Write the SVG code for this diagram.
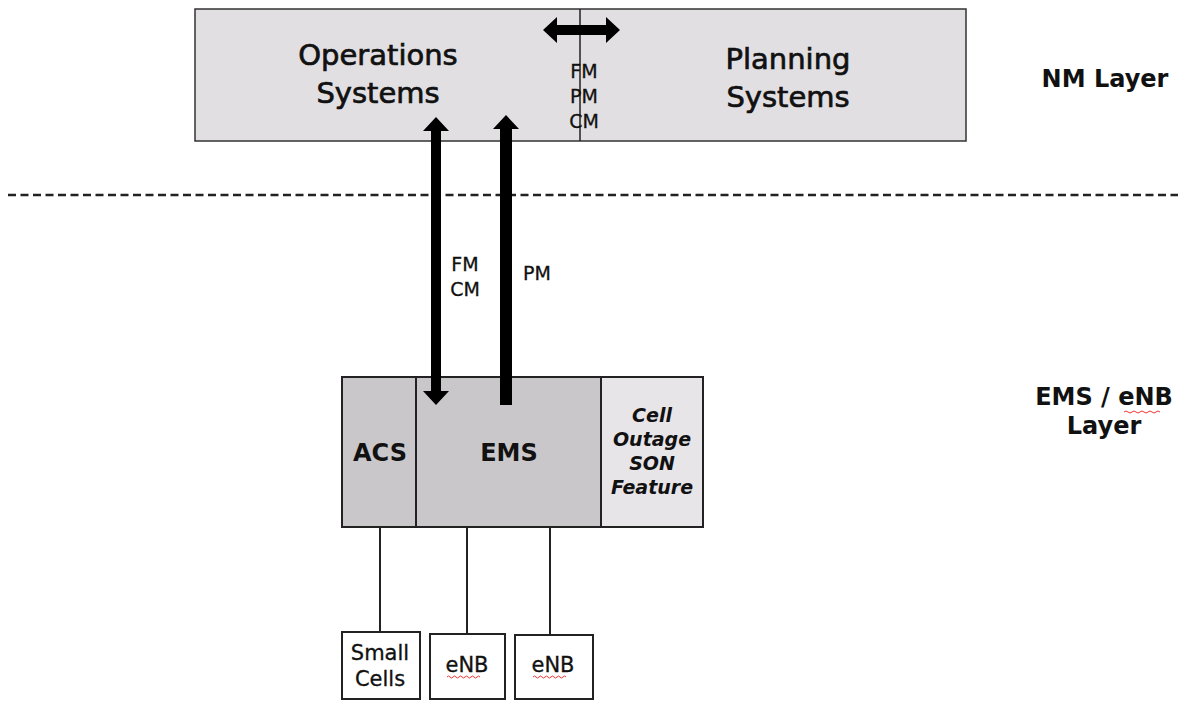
<svg xmlns="http://www.w3.org/2000/svg" width="1182" height="702" viewBox="0 0 1182 702">
<style>
.t{font-family:"DejaVu Sans","Liberation Sans",sans-serif;fill:#111;text-anchor:middle}
.big{font-size:29px;stroke:#111;stroke-width:0.7}
.b{font-weight:bold}
.sm{font-size:19px;stroke:#111;stroke-width:0.3}
.nb{font-size:21px;stroke:#111;stroke-width:0.3}
.box{stroke:#222;stroke-width:2}
.ln{stroke:#222;stroke-width:2;fill:none}
.arr{fill:#000}
.sq{fill:none;stroke:#e33;stroke-width:1}
</style>
<rect width="1182" height="702" fill="#fff"/>
<g id="nm-box">
<rect x="195" y="9" width="771" height="132" fill="#e1dfe2" stroke="#333" stroke-width="1.5"/>
<line x1="580" y1="9" x2="580" y2="141" stroke="#222" stroke-width="1.5"/>
</g>
<g id="operations-systems">
<text class="t big" x="378" y="65">Operations</text>
<text class="t big" x="378" y="103">Systems</text>
</g>
<g id="planning-systems">
<text class="t big" x="788" y="69">Planning</text>
<text class="t big" x="788" y="107">Systems</text>
</g>
<g id="nm-layer"><text class="t b" font-size="24" x="1105" y="87">NM Layer</text></g>
<g id="ems-layer">
<text class="t b" font-size="24" x="1104" y="405">EMS / eNB</text>
<text class="t b" font-size="24" x="1104" y="434">Layer</text>
<path class="sq" d="M1124 412 q2 -2 4 0 t4 0 t4 0 t4 0 t4 0 t4 0 t4 0 t4 0 t4 0"/>
</g>
<g id="divider"><line x1="8" y1="195" x2="1178" y2="195" stroke="#222" stroke-width="2.4" stroke-dasharray="8 4.5"/></g>
<g id="acs"><rect class="box" x="342" y="377" width="74" height="150" fill="#c9c7ca"/><text class="t b" font-size="24" x="380" y="461">ACS</text></g>
<g id="ems"><rect class="box" x="416" y="377" width="185" height="150" fill="#c9c7ca"/><text class="t b" font-size="24" x="509" y="461">EMS</text></g>
<g id="cell-outage"><rect class="box" x="601" y="377" width="102" height="150" fill="#e8e5e9"/>
<text class="t b" font-size="19" font-style="italic" x="652" y="422">Cell</text>
<text class="t b" font-size="19" font-style="italic" x="652" y="446">Outage</text>
<text class="t b" font-size="19" font-style="italic" x="652" y="470">SON</text>
<text class="t b" font-size="19" font-style="italic" x="652" y="494">Feature</text>
</g>
<g id="small-cells"><rect class="box" x="342" y="632" width="78" height="67" fill="#fff"/>
<text class="t nb" x="380" y="660">Small</text>
<text class="t nb" x="380" y="686">Cells</text></g>
<g id="enb1"><rect class="box" x="430" y="634" width="75" height="65" fill="#fff"/>
<text class="t nb" x="467" y="672">eNB</text>
<path class="sq" d="M447 677 q1.5 -2 3 0 t3 0 t3 0 t3 0 t3 0 t3 0 t3 0 t3 0 t3 0 t3 0 t3 0"/></g>
<g id="enb2"><rect class="box" x="515" y="635" width="78" height="64" fill="#fff"/>
<text class="t nb" x="553" y="672">eNB</text>
<path class="sq" d="M533 677 q1.5 -2 3 0 t3 0 t3 0 t3 0 t3 0 t3 0 t3 0 t3 0 t3 0 t3 0 t3 0"/></g>
<g id="connectors">
<polygon class="arr" points="543,30 557,17 557,25 606,25 606,17 620,30 606,43 606,35 557,35 557,43"/>
<polygon class="arr" points="436,117 449,131 441,131 441,391 449,391 436,405 423,391 431,391 431,131 423,131"/>
<polygon class="arr" points="506,115 519,129 512,129 512,405 500,405 500,129 493,129"/>
<line class="ln" x1="380" y1="527" x2="380" y2="632"/>
<line class="ln" x1="467" y1="527" x2="467" y2="634"/>
<line class="ln" x1="550" y1="527" x2="550" y2="635"/>
<text class="t sm" x="584" y="78">FM</text>
<text class="t sm" x="584" y="103">PM</text>
<text class="t sm" x="584" y="128">CM</text>
<text class="t sm" x="465" y="271">FM</text>
<text class="t sm" x="465" y="296">CM</text>
<text class="t sm" x="537" y="280">PM</text>
</g>
</svg>
